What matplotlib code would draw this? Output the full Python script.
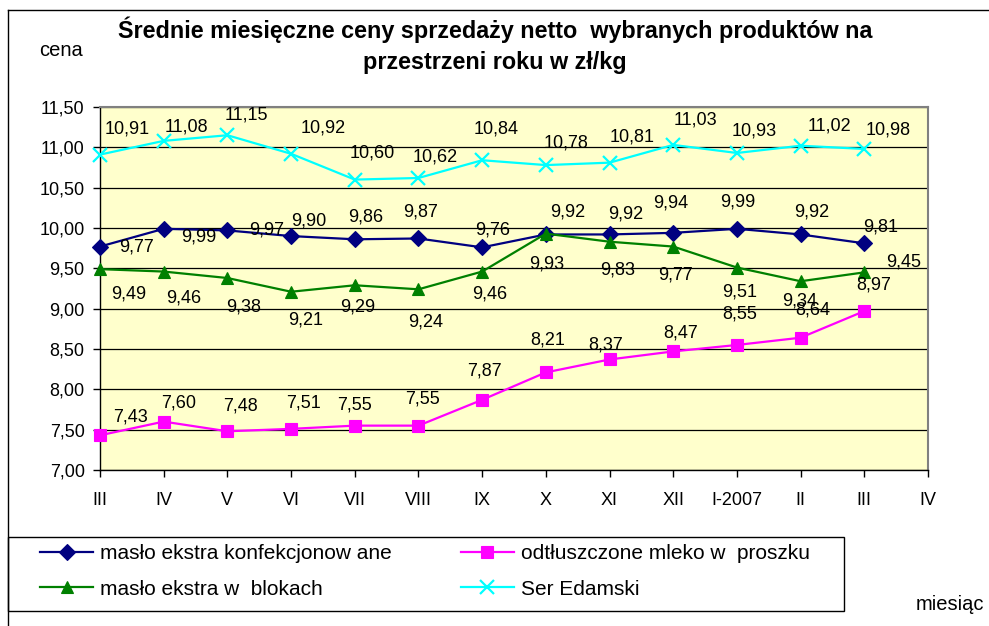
import matplotlib.pyplot as plt
from matplotlib.lines import Line2D
from matplotlib.patches import Rectangle

plt.rcParams['font.family'] = ['Liberation Sans', 'DejaVu Sans']

months = ['III', 'IV', 'V', 'VI', 'VII', 'VIII', 'IX', 'X', 'XI', 'XII', 'I-2007', 'II', 'III', 'IV']

maslo_konf = [9.77, 9.99, 9.97, 9.90, 9.86, 9.87, 9.76, 9.92, 9.92, 9.94, 9.99, 9.92, 9.81]
mleko = [7.43, 7.60, 7.48, 7.51, 7.55, 7.55, 7.87, 8.21, 8.37, 8.47, 8.55, 8.64, 8.97]
maslo_blok = [9.49, 9.46, 9.38, 9.21, 9.29, 9.24, 9.46, 9.93, 9.83, 9.77, 9.51, 9.34, 9.45]
ser = [10.91, 11.08, 11.15, 10.92, 10.60, 10.62, 10.84, 10.78, 10.81, 11.03, 10.93, 11.02, 10.98]

# label offsets in pixels (dx, dy up) - placement only
off_konf = [(37, 0), (35, -8), (39, 0), (18, 15), (11, 22), (2, 26), (10, 17), (22, 22), (16, 20), (-3, 30), (1, 27), (11, 22), (16, 16)]
off_mleko = [(30, 18), (15, 19), (13, 25), (12, 26), (0, 21), (4, 27), (2, 29), (2, 32), (-4, 14), (7, 18), (3, 31), (12, 28), (9, 26)]
off_blok = [(29, -25), (20, -26), (16, -29), (15, -28), (3, -22), (7, -33), (8, -22), (1, -30), (8, -28), (2, -28), (3, -24), (-1, -20), (39, 10)]
off_ser = [(27, 26), (23, 14), (19, 20), (32, 26), (17, 27), (17, 21), (14, 31), (20, 22), (23, 26), (22, 25), (17, 22), (29, 20), (24, 19)]

W, H = 989, 626
fig = plt.figure(figsize=(W / 100, H / 100), dpi=100)
ax = fig.add_axes([100 / W, 1 - 470 / H, 828 / W, 363 / H])
ax.set_facecolor('#FFFFCC')

x = list(range(len(maslo_konf)))
series = [
    (maslo_konf, '#000080', 'D', 8, 'masło ekstra konfekcjonow ane', off_konf),
    (mleko, '#FF00FF', 's', 8, 'odtłuszczone mleko w  proszku', off_mleko),
    (maslo_blok, '#008000', '^', 9, 'masło ekstra w  blokach', off_blok),
    (ser, '#00FFFF', 'x', 10, 'Ser Edamski', off_ser),
]
handles = {}
for vals, col, mk, ms, lab, offs in series:
    ln, = ax.plot(x, vals, color=col, marker=mk, markersize=ms, lw=1.6,
                  markeredgewidth=1.6 if mk == 'x' else 0.8, markeredgecolor=col, zorder=3, clip_on=False)
    handles[lab] = ln
    for xi, v, (dx, dy) in zip(x, vals, offs):
        ax.annotate(f'{v:.2f}'.replace('.', ','), (xi, v), xytext=(dx, dy),
                    textcoords='offset pixels', ha='center', va='center', fontsize=13, zorder=4)

ax.set_xlim(0, 13)
ax.set_ylim(7, 11.5)
ax.set_yticks([7 + 0.5 * i for i in range(10)])
ax.set_yticklabels([f'{7 + 0.5 * i:.2f}'.replace('.', ',') for i in range(10)], fontsize=13)
ax.set_xticks(range(14))
ax.set_xticklabels(months, fontsize=13)
ax.tick_params(axis='both', direction='out', length=5, color='black', width=1)
ax.tick_params(axis='x', pad=11)
ax.tick_params(axis='y', pad=6)
ax.grid(axis='y', color='black', lw=0.9)
ax.set_axisbelow(True)
for s in ['top', 'right']:
    ax.spines[s].set_color('#808080')
    ax.spines[s].set_linewidth(1.5)
for s in ['left', 'bottom']:
    ax.spines[s].set_color('black')
    ax.spines[s].set_linewidth(1)

# outer chart frame
fig.add_artist(Line2D([8 / W, 1], [1 - 10 / H, 1 - 10 / H], color='black', lw=1))
fig.add_artist(Line2D([8 / W, 8 / W], [1 - 10 / H, 0], color='black', lw=1))

fig.text(495 / W, 1 - 30 / H, 'Średnie miesięczne ceny sprzedaży netto  wybranych produktów na',
         ha='center', va='center', fontsize=16.8, fontweight='bold')
fig.text(495 / W, 1 - 62 / H, 'przestrzeni roku w zł/kg',
         ha='center', va='center', fontsize=16.8, fontweight='bold')
fig.text(61 / W, 1 - 50 / H, 'cena', ha='center', va='center', fontsize=14.5)
fig.text(950 / W, 1 - 605 / H, 'miesiąc', ha='center', va='center', fontsize=14.5)

# legend box
fig.add_artist(Rectangle((8 / W, 1 - 611 / H), 836 / W, 74 / H, transform=fig.transFigure,
                         fill=False, edgecolor='black', lw=1))
order = ['masło ekstra konfekcjonow ane', 'masło ekstra w  blokach',
         'odtłuszczone mleko w  proszku', 'Ser Edamski']
leg = fig.legend([handles[k] for k in order], order, ncol=2, loc='upper left',
                 bbox_to_anchor=(40 / W, 1 - 544 / H), fontsize=15, frameon=False,
                 handlelength=2.55, columnspacing=3.3, borderaxespad=0, borderpad=0,
                 labelspacing=0.8, handletextpad=0.35)

fig.savefig('out.png', dpi=100)
